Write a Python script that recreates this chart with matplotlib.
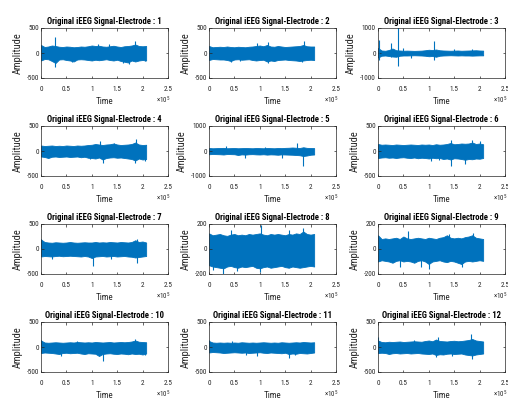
import numpy as np
import matplotlib
matplotlib.use('Agg')
import matplotlib.pyplot as plt
from matplotlib import font_manager as fm
from matplotlib.font_manager import FontProperties

# ---------------- data ----------------
n_samples = 2.07e5
xtick_vals = [0, 0.5, 1, 1.5, 2, 2.5]
xtick_labels = ['0', '0.5', '1', '1.5', '2', '2.5']
y_limits = [500, 500, 1000, 500, 1000, 500, 500, 200, 200, 500, 500, 500]

e1_upper = [160,120,130,150,140,125,120,130,125,115,120,130,125,135,150,140,145,130,125,135,145,130,120,135,140,150,170,140,135,140]
e1_lower = [-150,-120,-125,-160,-200,-130,-125,-140,-150,-170,-130,-125,-130,-140,-150,-135,-145,-135,-125,-140,-150,-135,-160,-175,-190,-150,-170,-150,-140,-150]
e1_spike_t = [0.27, 0.27, 0.62, 1.12, 1.33, 1.62, 1.74, 1.86, 2.04]
e1_spike_v = [320, -270, -180, 190, 175, -190, -220, 240, -160]

e2_upper = [140,115,120,125,120,130,120,115,125,120,115,125,130,140,150,135,160,130,125,140,130,120,125,130,135,140,160,135,130,130]
e2_lower = [-140,-120,-125,-130,-130,-140,-160,-130,-125,-135,-130,-125,-140,-150,-140,-135,-170,-150,-160,-140,-135,-130,-140,-145,-150,-160,-150,-140,-135,-140]
e2_spike_t = [0.95, 1.16, 1.87, 0.43, 1.16, 1.84, 0.62]
e2_spike_v = [210, 215, 235, -170, -200, -185, -165]

e3_upper = [200,100,90,120,180,110,100,90,95,90,85,90,95,110,130,120,140,110,100,95,90,95,100,90,95,100,105,110,100,95]
e3_lower = [-180,-110,-100,-120,-140,-150,-110,-100,-100,-95,-90,-95,-100,-110,-130,-120,-150,-110,-100,-95,-90,-95,-100,-95,-100,-100,-105,-100,-95,-95]
e3_spike_t = [0.01, 0.01, 0.25, 0.25, 0.385, 0.385, 0.5, 0.65, 1.1, 1.1, 1.5, 1.85]
e3_spike_v = [520, -260, 390, -150, 1300, -520, 220, -200, 500, -260, 180, 170]

e4_upper = [110,100,105,110,100,105,100,110,105,100,110,105,110,120,125,140,130,120,130,135,150,130,120,125,130,140,170,130,120,125]
e4_lower = [-110,-120,-140,-115,-110,-120,-115,-110,-120,-115,-110,-125,-115,-135,-140,-150,-130,-170,-140,-130,-125,-135,-130,-140,-150,-160,-190,-150,-170,-160]
e4_spike_t = [1.16, 1.87, 1.43, 1.23, 1.85, 2.05, 0.97]
e4_spike_v = [195, 240, 165, -230, -230, -195, -160]

e5_upper = [120,110,115,120,125,110,115,120,110,115,120,115,110,120,115,110,120,115,110,120,115,125,130,140,130,120,150,125,120,115]
e5_lower = [-130,-120,-125,-130,-140,-120,-125,-130,-160,-135,-145,-130,-125,-135,-140,-130,-145,-135,-140,-150,-135,-140,-145,-150,-160,-170,-200,-180,-150,-140]
e5_spike_t = [1.73, 1.85, 1.44, 0.70, 0.34, 1.10]
e5_spike_v = [320, -580, -260, -260, 190, 170]

e6_upper = [140,125,130,125,120,130,125,120,125,130,125,120,130,125,130,120,135,125,130,140,160,135,140,150,145,150,170,140,150,135]
e6_lower = [-140,-130,-125,-135,-130,-140,-130,-125,-135,-140,-130,-145,-135,-140,-150,-135,-145,-140,-160,-150,-170,-145,-150,-160,-175,-160,-165,-150,-155,-140]
e6_spike_t = [1.43, 1.43, 1.72, 1.85, 2.00, 1.04, 1.20]
e6_spike_v = [-290, 225, -260, 225, 200, -195, -180]

e7_upper = [190,140,130,125,135,130,125,130,140,130,125,130,135,130,130,140,130,135,130,140,135,130,140,135,130,140,175,140,150,130]
e7_lower = [-150,-140,-145,-150,-140,-135,-145,-140,-135,-140,-145,-150,-140,-150,-180,-150,-145,-140,-150,-145,-140,-150,-145,-140,-150,-155,-170,-160,-150,-140]
e7_spike_t = [1.02, 1.89, 0.0, 1.89, 0.21, 1.37]
e7_spike_v = [-330, 200, 200, -270, -200, -200]

e8_upper = [125,110,115,120,110,105,115,120,110,115,110,120,115,120,125,115,110,120,115,120,115,110,120,115,125,120,140,120,115,120]
e8_lower = [-130,-140,-145,-150,-155,-140,-135,-145,-150,-140,-145,-140,-135,-150,-155,-145,-140,-150,-145,-140,-135,-145,-150,-140,-145,-150,-145,-140,-135,-140]
e8_spike_t = [1.02, 1.86, 0.27, 1.00, 0.08, 1.58, 0.56, 0.44]
e8_spike_v = [195, 165, -200, -185, -170, 150, -175, 150]

e9_upper = [110,80,85,80,85,90,80,100,85,80,85,90,85,80,90,85,80,90,95,110,90,85,90,85,95,100,110,90,85,80]
e9_lower = [-100,-90,-95,-100,-110,-95,-90,-100,-95,-100,-110,-95,-90,-100,-120,-100,-95,-90,-100,-105,-95,-100,-110,-120,-100,-95,-100,-95,-90,-95]
e9_spike_t = [0.60, 1.00, 0.44, 1.40, 1.87, 1.65, 0.85]
e9_spike_v = [147, -160, -140, 120, 128, -140, -140]

e10_upper = [130,90,85,90,95,90,85,90,95,90,100,95,90,95,90,100,95,90,95,100,90,95,100,95,100,110,130,105,100,95]
e10_lower = [-120,-110,-115,-120,-130,-140,-120,-115,-125,-120,-115,-130,-140,-125,-130,-135,-180,-140,-130,-125,-135,-140,-130,-135,-145,-130,-140,-135,-150,-130]
e10_spike_t = [1.23, 1.86, 0.0, 2.04, 0.70, 0.40]
e10_spike_v = [-280, 165, 140, -160, 130, -170]

e11_upper = [120,90,85,90,85,90,85,90,85,95,90,85,90,85,90,95,90,85,90,85,95,90,85,90,95,90,100,95,90,95]
e11_lower = [-110,-100,-105,-110,-120,-115,-110,-105,-110,-115,-110,-120,-115,-110,-105,-115,-120,-110,-115,-120,-125,-115,-140,-130,-135,-120,-125,-130,-120,-110]
e11_spike_t = [1.57, 1.70, 0.95, 0.0, 0.72, 0.46]
e11_spike_v = [-210, -165, -175, 140, -160, 115]

e12_upper = [130,100,95,105,100,105,110,100,105,110,115,110,105,120,130,115,150,120,115,110,120,125,115,120,130,140,160,130,120,110]
e12_lower = [-120,-115,-120,-140,-125,-120,-130,-125,-120,-130,-125,-120,-130,-135,-140,-130,-160,-145,-150,-135,-130,-140,-135,-130,-150,-160,-170,-150,-140,-130]
e12_spike_t = [1.84, 1.18, 1.85, 1.14, 0.0, 0.70, 1.45]
e12_spike_v = [270, 200, -235, -200, 200, 150, -180]

uppers = [e1_upper, e2_upper, e3_upper, e4_upper, e5_upper, e6_upper,
          e7_upper, e8_upper, e9_upper, e10_upper, e11_upper, e12_upper]
lowers = [e1_lower, e2_lower, e3_lower, e4_lower, e5_lower, e6_lower,
          e7_lower, e8_lower, e9_lower, e10_lower, e11_lower, e12_lower]
spike_ts = [e1_spike_t, e2_spike_t, e3_spike_t, e4_spike_t, e5_spike_t, e6_spike_t,
            e7_spike_t, e8_spike_t, e9_spike_t, e10_spike_t, e11_spike_t, e12_spike_t]
spike_vs = [e1_spike_v, e2_spike_v, e3_spike_v, e4_spike_v, e5_spike_v, e6_spike_v,
            e7_spike_v, e8_spike_v, e9_spike_v, e10_spike_v, e11_spike_v, e12_spike_v]

# ---------------- fonts ----------------
entries = fm.fontManager.ttflist
names = {f.name for f in entries}
narrow_family, narrow_stretch = 'Liberation Sans', 'normal'
for n in ['Roboto Condensed', 'Liberation Sans Narrow', 'Arial Narrow', 'Open Sans Condensed']:
    if n in names:
        narrow_family, narrow_stretch = n, 'normal'
        break
else:
    for f in entries:
        if str(f.stretch) in ('condensed', 'semi-condensed', 'extra-condensed'):
            narrow_family, narrow_stretch = f.name, str(f.stretch)
            break

def nfp(size, weight='normal'):
    return FontProperties(family=[narrow_family, 'DejaVu Sans'], stretch=narrow_stretch,
                          weight=weight, size=size)

plt.rcParams['mathtext.fontset'] = 'custom'
plt.rcParams['mathtext.rm'] = narrow_family
plt.rcParams['mathtext.it'] = narrow_family
plt.rcParams['mathtext.bf'] = narrow_family

# ---------------- figure ----------------
BLUE = '#0072BD'
AX_COL = '#262626'
FW, FH = 508, 401
fig = plt.figure(figsize=(FW / 100, FH / 100), dpi=100)
lefts = [41, 209, 378]
tops = [28, 126, 224, 322]
W, H = 127, 50

t = np.linspace(0, n_samples, len(e1_upper))

for k in range(12):
    r, c = divmod(k, 3)
    ax = fig.add_axes([lefts[c] / FW, 1 - (tops[r] + H) / FH, W / FW, H / FH])
    ax.fill_between(t, lowers[k], uppers[k], color=BLUE, lw=0.6, edgecolor=BLUE)
    st = np.array(spike_ts[k]) * 1e5
    ax.vlines(st, 0, spike_vs[k], color=BLUE, lw=0.8)
    lim = y_limits[k]
    ax.set_xlim(0, 2.5e5)
    ax.set_ylim(-lim, lim)
    ax.set_xticks(np.array(xtick_vals) * 1e5)
    ax.set_xticklabels(xtick_labels, fontproperties=nfp(5.2))
    ax.set_yticks([-lim, 0, lim])
    ax.set_yticklabels([str(-lim), '0', str(lim)], fontproperties=nfp(5.2))
    ax.tick_params(direction='in', length=1.8, width=0.5, top=True, right=True,
                   colors=AX_COL)
    ax.tick_params(axis='x', pad=6)
    ax.tick_params(axis='y', pad=1.5)
    for s in ax.spines.values():
        s.set_linewidth(0.5)
        s.set_color(AX_COL)
    ax.set_title(f'Original iEEG Signal-Electrode : {k + 1}', fontproperties=nfp(6.2, 'bold'),
                 pad=3, color='black')
    ax.set_xlabel('Time', fontproperties=nfp(6.5), labelpad=3, color=AX_COL)
    ax.set_ylabel('Amplitude', fontproperties=nfp(7.5), labelpad=3, color=AX_COL)
    ax.text(1.02, -0.52, r'$\times10^{5}$', transform=ax.transAxes, ha='right',
            va='baseline', fontsize=5, color=AX_COL)

fig.savefig('out.png', dpi=100)
